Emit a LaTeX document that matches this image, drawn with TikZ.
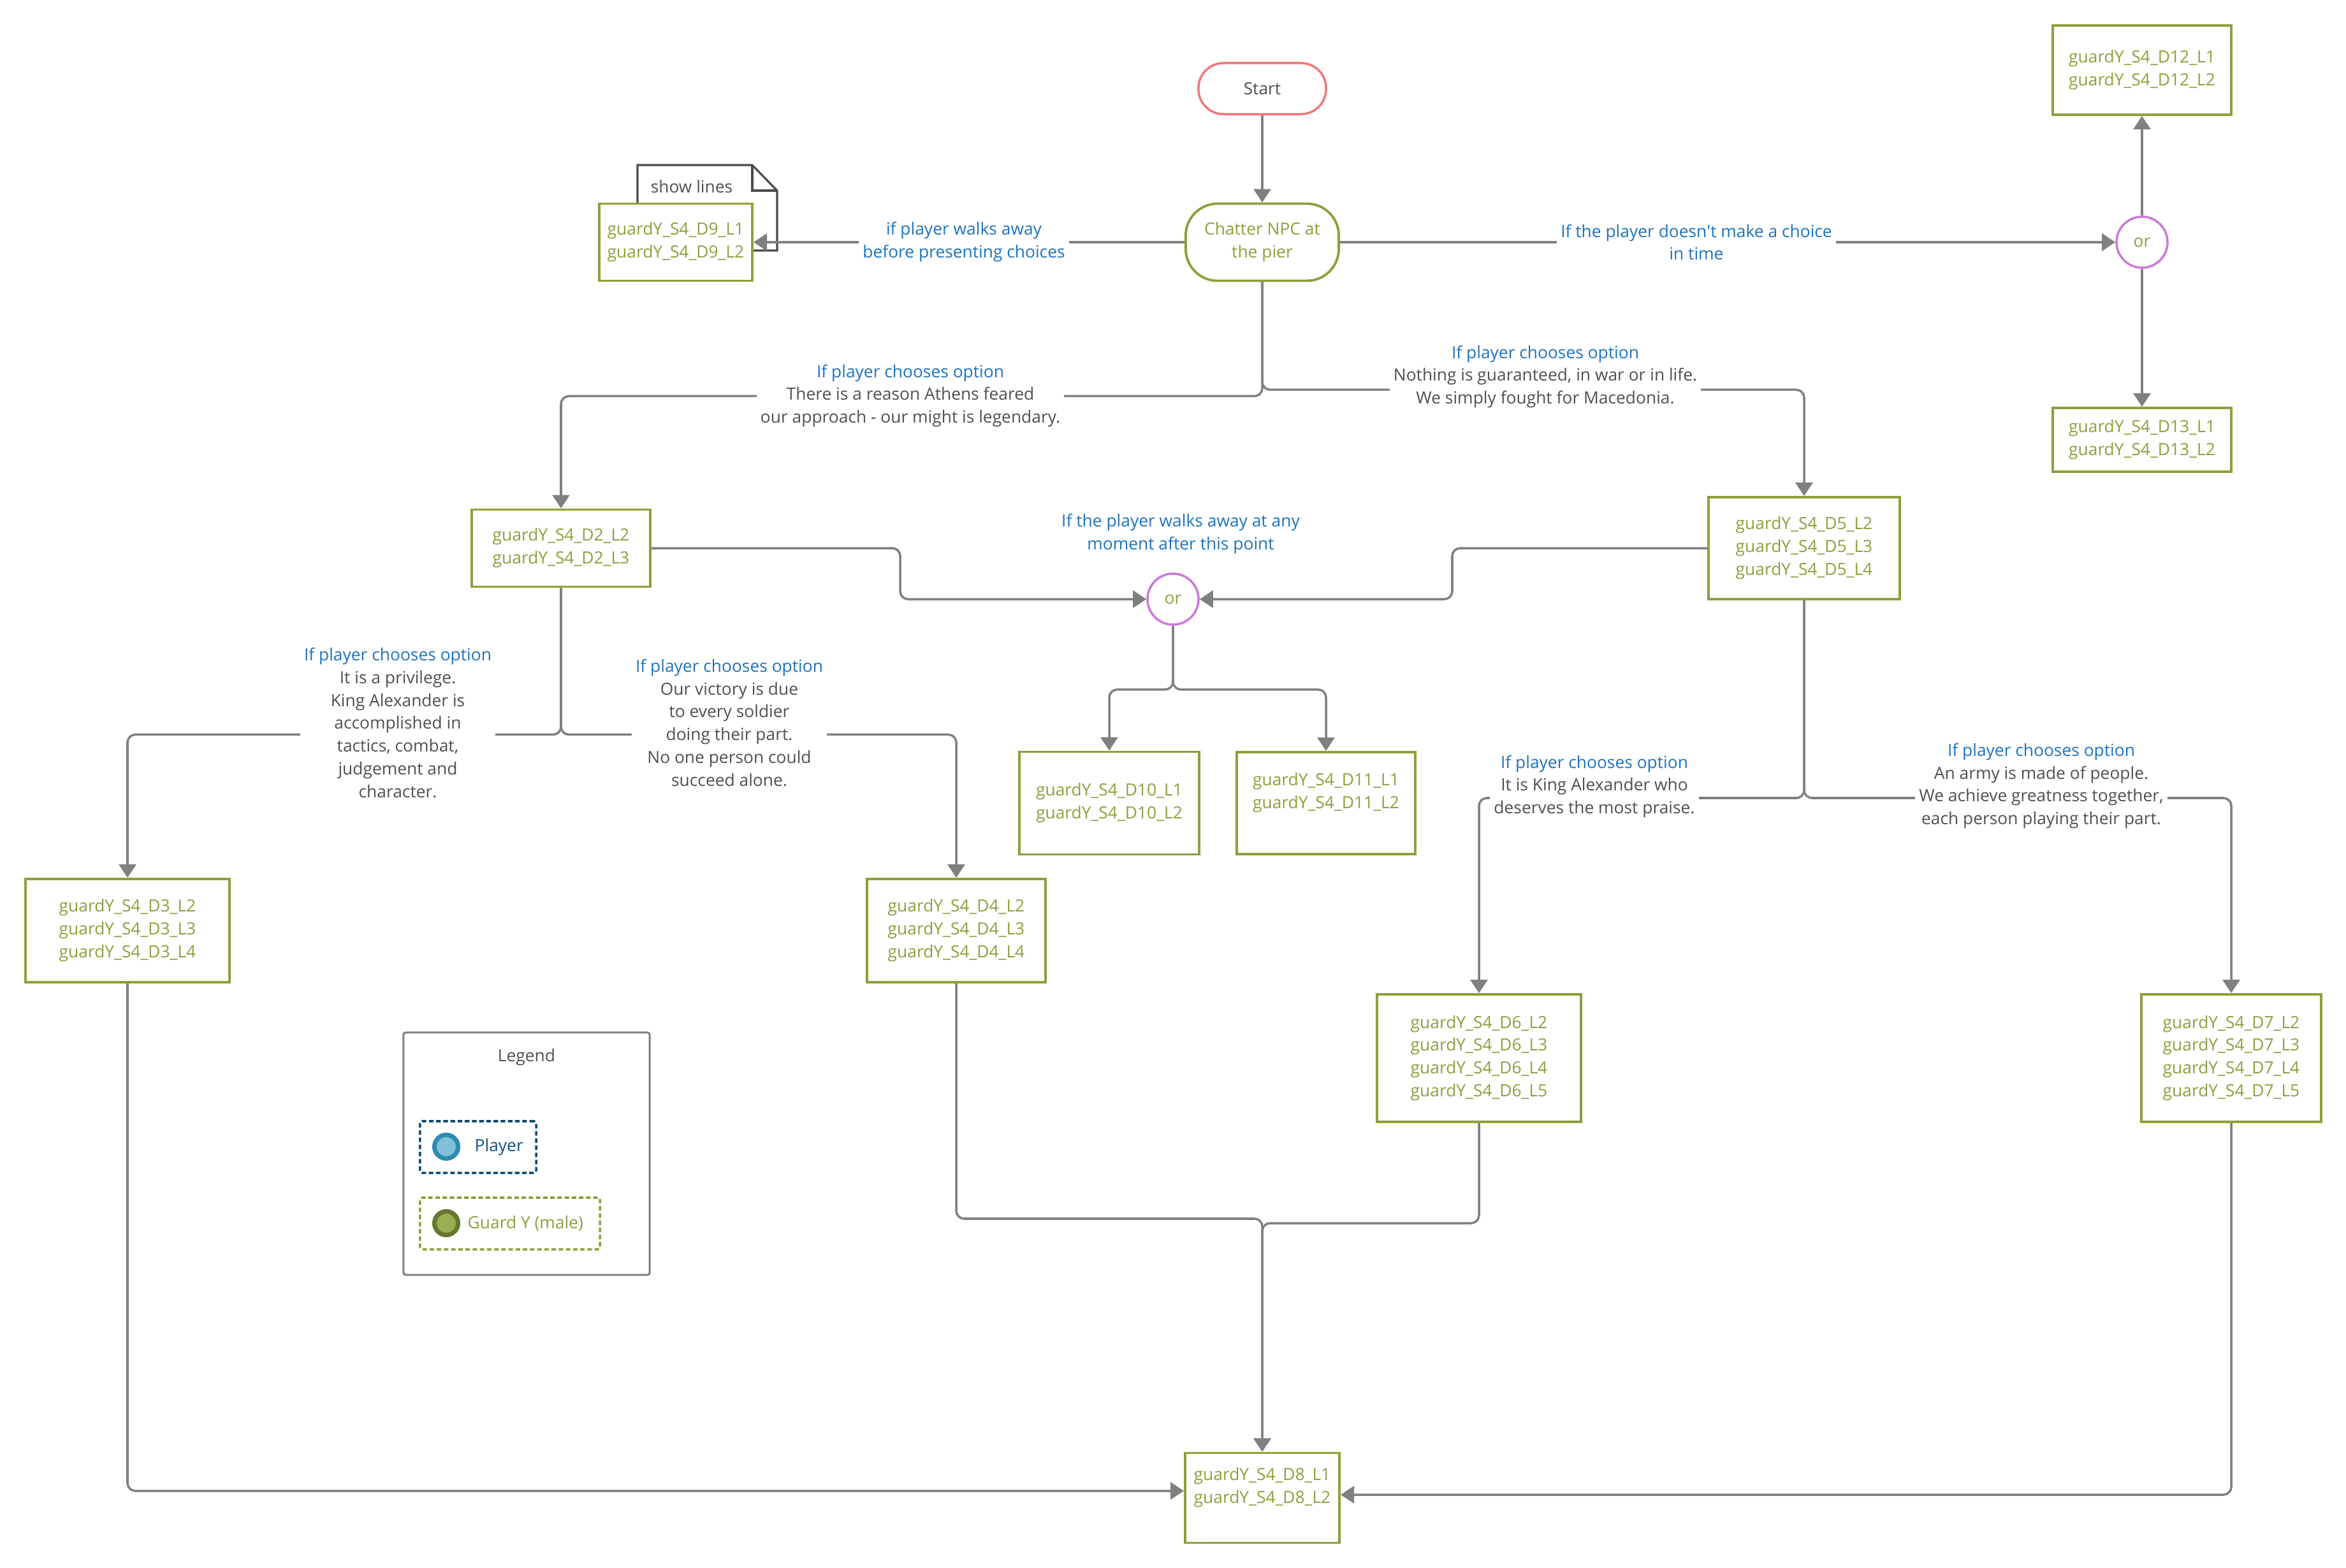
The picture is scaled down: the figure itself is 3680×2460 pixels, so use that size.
\documentclass[tikz,border=0pt]{standalone}
\usepackage{fontspec}
\setmainfont{Open Sans}
\usetikzlibrary{arrows.meta}

\definecolor{guardgreen}{RGB}{141,160,59}
\definecolor{condblue}{RGB}{30,115,190}
\definecolor{textgray}{RGB}{80,80,80}
\definecolor{conngray}{RGB}{128,128,128}
\definecolor{startred}{RGB}{240,120,120}
\definecolor{orpink}{RGB}{205,120,220}
\definecolor{notegray}{RGB}{74,74,74}
\definecolor{playerdash}{RGB}{12,75,115}
\definecolor{playerring}{RGB}{46,139,176}
\definecolor{playerfill}{RGB}{130,192,218}
\definecolor{playertext}{RGB}{20,80,130}
\definecolor{guardring}{RGB}{104,117,48}
\definecolor{guardfill}{RGB}{154,174,82}

\begin{document}
\begin{tikzpicture}[x=0.01cm, y=-0.01cm]
   \tikzstyle{every node}=[font=\fontsize{7.5}{10.2}\selectfont]
   \tikzstyle{dlg}=[draw=guardgreen, line width=1.1pt, fill=white, text=guardgreen, align=center, inner sep=0pt]
   \tikzstyle{conn}=[draw=conngray, line width=1pt, rounded corners=3.5pt, -{Triangle[length=0.21cm, width=0.27cm]}]
   \tikzstyle{cond}=[fill=white, align=center, text=textgray, inner sep=0.06cm]
   \tikzstyle{orgate}=[draw=orpink, line width=1pt, circle, minimum size=0.8cm, inner sep=0pt, fill=white, text=guardgreen]
   \tikzstyle{legenditem}=[line width=1pt, dash pattern=on 2pt off 1.2pt, rounded corners=1pt]

\useasboundingbox (0,0) rectangle (3680,2460);

\draw[notegray, line width=0.9pt, fill=white] (1000,393) -- (1000,259) -- (1180,259) -- (1219,299) -- (1219,393) -- cycle;
\draw[notegray, line width=0.9pt] (1180,259) -- (1180,299) -- (1219,299);
\node[text=textgray] (note) at (1085,293) {show lines};

\node[draw=startred, line width=1pt, rounded corners=0.39cm, minimum width=2cm, minimum height=0.8cm, text=textgray] (start) at (1980,139) {Start};
\node[dlg, rounded corners=0.5cm, minimum width=2.4cm, minimum height=1.21cm] (chatter) at (1980,380) {Chatter NPC at\\the pier};

\node[dlg, minimum width=2.4cm, minimum height=1.21cm] (d9) at (1060,380) {guardY\_S4\_D9\_L1\\guardY\_S4\_D9\_L2};
\node[orgate] (orR) at (3360,380) {or};
\node[dlg, minimum width=2.8cm, minimum height=1.4cm] (d12) at (3360,110) {guardY\_S4\_D12\_L1\\guardY\_S4\_D12\_L2};
\node[dlg, minimum width=2.8cm, minimum height=1cm] (d13) at (3360,690) {guardY\_S4\_D13\_L1\\guardY\_S4\_D13\_L2};

\node[dlg, minimum width=2.8cm, minimum height=1.21cm] (d2) at (880,860) {guardY\_S4\_D2\_L2\\guardY\_S4\_D2\_L3};
\node[dlg, minimum width=3cm, minimum height=1.6cm] (d5) at (2830,860) {guardY\_S4\_D5\_L2\\guardY\_S4\_D5\_L3\\guardY\_S4\_D5\_L4};
\node[orgate] (orM) at (1840,940) {or};
\node[dlg, minimum width=2.81cm, minimum height=1.61cm] (d10) at (1740,1260) {guardY\_S4\_D10\_L1\\guardY\_S4\_D10\_L2};
\node[dlg, minimum width=2.8cm, minimum height=1.6cm, text depth=0.39cm] (d11) at (2080,1260) {guardY\_S4\_D11\_L1\\guardY\_S4\_D11\_L2};

\node[dlg, minimum width=3.2cm, minimum height=1.62cm] (d3) at (200,1460) {guardY\_S4\_D3\_L2\\guardY\_S4\_D3\_L3\\guardY\_S4\_D3\_L4};
\node[dlg, minimum width=2.79cm, minimum height=1.62cm] (d4) at (1500,1460) {guardY\_S4\_D4\_L2\\guardY\_S4\_D4\_L3\\guardY\_S4\_D4\_L4};
\node[dlg, minimum width=3.2cm, minimum height=2cm] (d6) at (2320,1660) {guardY\_S4\_D6\_L2\\guardY\_S4\_D6\_L3\\guardY\_S4\_D6\_L4\\guardY\_S4\_D6\_L5};
\node[dlg, minimum width=2.82cm, minimum height=2cm] (d7) at (3500,1660) {guardY\_S4\_D7\_L2\\guardY\_S4\_D7\_L3\\guardY\_S4\_D7\_L4\\guardY\_S4\_D7\_L5};
\node[dlg, minimum width=2.42cm, minimum height=1.41cm, text depth=0.39cm] (d8) at (1980,2350) {guardY\_S4\_D8\_L1\\guardY\_S4\_D8\_L2};

\draw[conn] (start) -- (chatter);
\draw[conn] (chatter) -- (d9);
\draw[conn] (chatter) -- (orR);
\draw[conn] (orR) -- (d12);
\draw[conn] (orR) -- (d13);
\draw[conn] (chatter.south) -- ++(0,179) -| (d2.north);
\draw[conn] (chatter.south) -- ++(0,169) -| (d5.north);
\draw[conn] (d2.east) -- ++(390,0) |- (orM.west);
\draw[conn] (d5.west) -- ++(-400,0) |- (orM.east);
\draw[conn] (orM.south) -- ++(0,100) -| (d10.north);
\draw[conn] (orM.south) -- ++(0,100) -| (d11.north);
\draw[conn] (d2.south) -- ++(0,230) -| (d3.north);
\draw[conn] (d2.south) -- ++(0,230) -| (d4.north);
\draw[conn] (d5.south) -- ++(0,310) -| (d6.north);
\draw[conn] (d5.south) -- ++(0,310) -| (d7.north);
\draw[conn] (d4.south) -- ++(0,369) -| (d8.north);
\draw[conn] (d6.south) -- ++(0,157) -| (d8.north);
\draw[conn] (d3.south) |- ([yshift=0.11cm]d8.west);
\draw[conn] (d7.south) |- ([yshift=0.05cm]d8.east);

\node[cond, text=condblue] (lwalk) at (1512,380) {if player walks away\\before presenting choices};
\node[cond, text=condblue] (ltime) at (2661,380) {If the player doesn\textquotesingle t make a choice\\in time};
\node[cond] (lathens) at (1428,621) {\textcolor{condblue}{If player chooses option}\\There is a reason Athens feared\\our approach - our might is legendary.};
\node[cond] (lmaced) at (2424,591) {\textcolor{condblue}{If player chooses option}\\Nothing is guaranteed, in war or in life.\\We simply fought for Macedonia.};
\node[text=condblue, align=center] (lany) at (1852,838) {If the player walks away at any\\moment after this point};
\node[cond] (lpriv) at (624,1134) {\textcolor{condblue}{If player chooses option}\\It is a privilege.\\King Alexander is\\accomplished in\\tactics, combat,\\judgement and\\character.};
\node[cond] (lvict) at (1144,1134) {\textcolor{condblue}{If player chooses option}\\Our victory is due\\to every soldier\\doing their part.\\No one person could\\succeed alone.};
\node[cond] (lking) at (2501,1234) {\textcolor{condblue}{If player chooses option}\\It is King Alexander who\\deserves the most praise.};
\node[cond] (larmy) at (3202,1233) {\textcolor{condblue}{If player chooses option}\\An army is made of people.\\We achieve greatness together,\\each person playing their part.};

\node[draw=conngray, line width=0.9pt, rounded corners=1pt, minimum width=3.86cm, minimum height=3.8cm] (legend) at (826,1810) {};
\node[text=textgray] (legendtitle) at (826,1659) {Legend};
\node[legenditem, draw=playerdash, minimum width=1.82cm, minimum height=0.81cm] (player) at (750,1799.5) {};
\node[circle, draw=playerring, fill=playerfill, line width=2pt, minimum size=0.37cm, inner sep=0pt] (playerdot) at (700,1799) {};
\node[text=playertext, anchor=west, inner sep=0pt] (playerlbl) at (744,1800) {Player};
\node[legenditem, draw=guardgreen, minimum width=2.82cm, minimum height=0.81cm] (guard) at (800,1919.5) {};
\node[circle, draw=guardring, fill=guardfill, line width=2pt, minimum size=0.37cm, inner sep=0pt] (guarddot) at (700,1919) {};
\node[text=guardgreen, anchor=west, inner sep=0pt] (guardlbl) at (733,1920) {Guard Y (male)};

\end{tikzpicture}
\end{document}
